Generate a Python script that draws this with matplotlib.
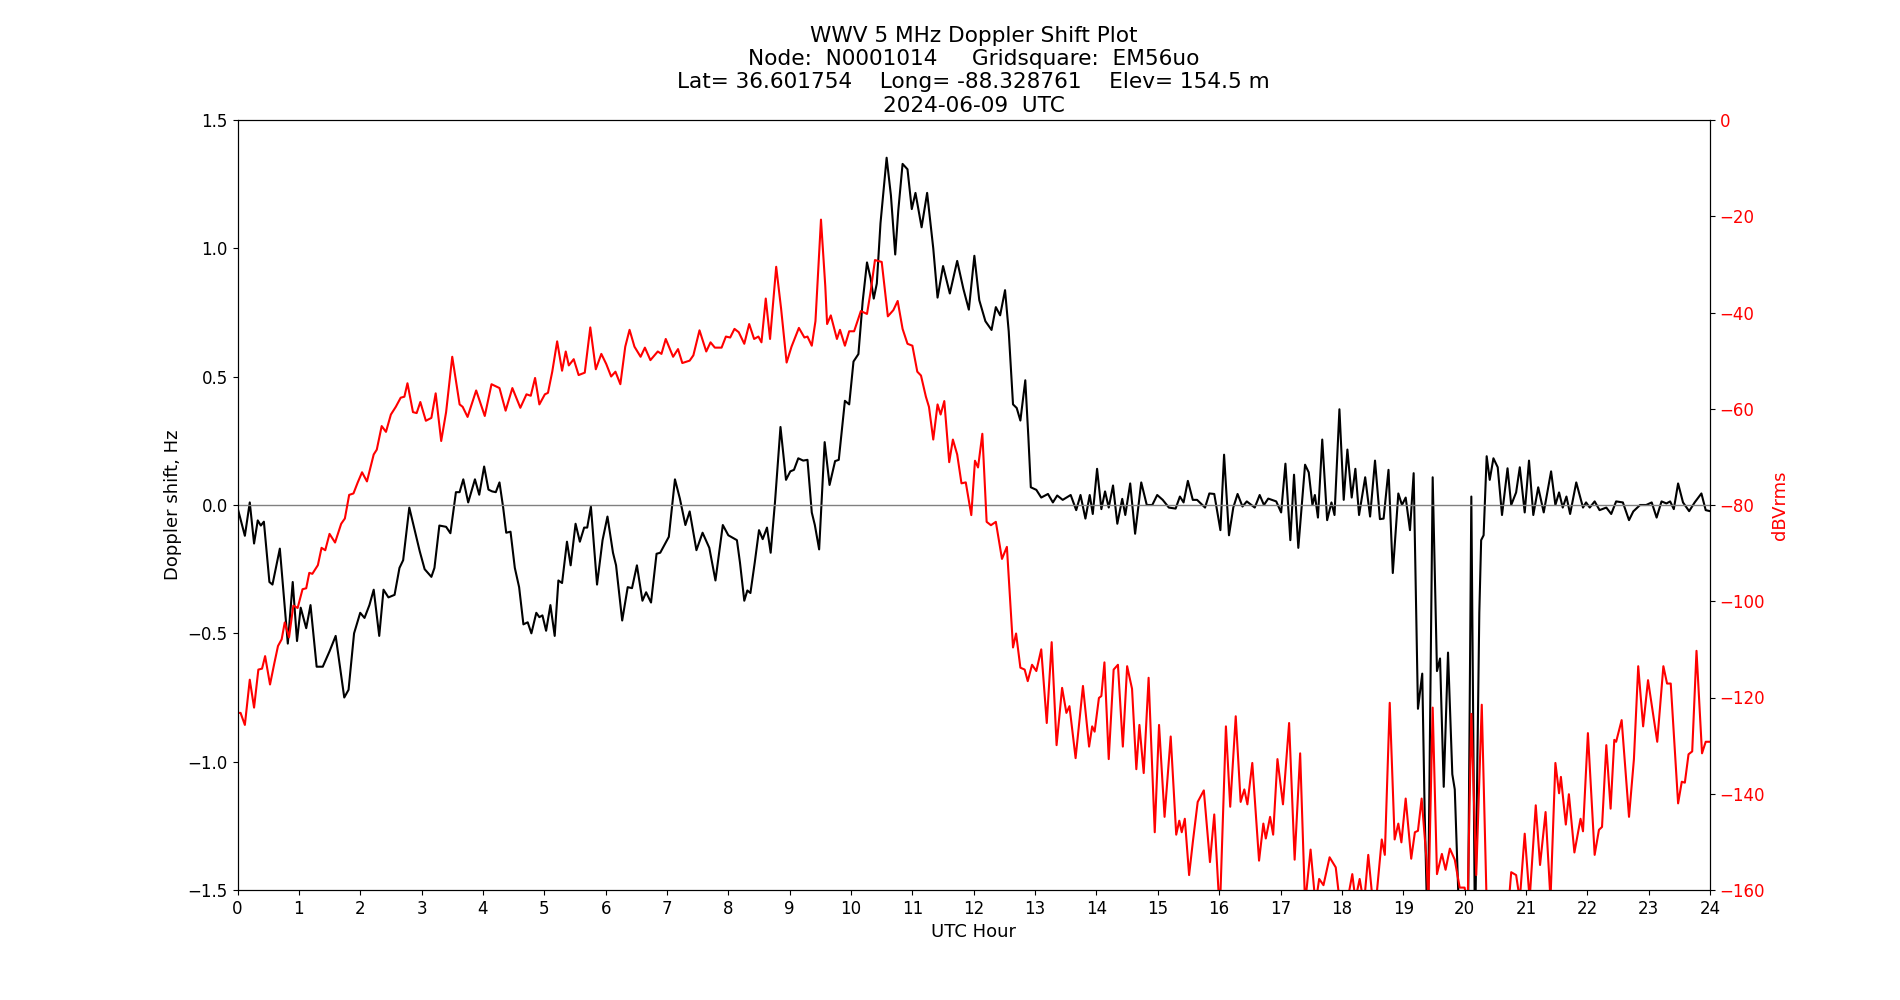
import numpy as np
import matplotlib as mpl
import matplotlib.pyplot as plt

mpl.rcParams['font.size'] = 13
mpl.rcParams['xtick.labelsize'] = 12
mpl.rcParams['ytick.labelsize'] = 12

# Doppler shift (black), hours UTC / Hz
dop_hour = [0.00, 0.12, 0.20, 0.27, 0.33, 0.38, 0.43, 0.52, 0.57, 0.69, 0.82, 0.90, 0.97,
            1.03, 1.12, 1.19, 1.29, 1.39, 1.50, 1.60, 1.74, 1.81, 1.90, 2.00, 2.07, 2.15,
            2.22, 2.31, 2.38, 2.46, 2.56, 2.64, 2.70, 2.80, 2.88, 2.97, 3.05, 3.16, 3.21,
            3.29, 3.40, 3.47, 3.56, 3.62, 3.68, 3.76, 3.87, 3.94, 4.02, 4.09, 4.15, 4.21,
            4.27, 4.33, 4.38, 4.45, 4.52, 4.59, 4.66, 4.73, 4.79, 4.87, 4.92, 4.97, 5.03,
            5.10, 5.17, 5.23, 5.29, 5.37, 5.43, 5.51, 5.58, 5.65, 5.70, 5.76, 5.86, 5.95,
            6.03, 6.12, 6.17, 6.27, 6.36, 6.43, 6.51, 6.60, 6.66, 6.74, 6.83, 6.89, 7.03,
            7.13, 7.21, 7.30, 7.37, 7.48, 7.58, 7.69, 7.79, 7.91, 8.00, 8.14, 8.19, 8.26,
            8.31, 8.36, 8.43, 8.50, 8.56, 8.63, 8.69, 8.76, 8.85, 8.94, 9.01, 9.07, 9.14,
            9.22, 9.29, 9.36, 9.41, 9.48, 9.57, 9.65, 9.74, 9.80, 9.90, 9.97, 10.04, 10.12,
            10.19, 10.26, 10.32, 10.37, 10.42, 10.48, 10.58, 10.65, 10.72, 10.77, 10.84,
            10.92, 10.99, 11.05, 11.15, 11.24, 11.34, 11.41, 11.50, 11.61, 11.73, 11.83,
            11.92, 12.01, 12.09, 12.19, 12.29, 12.36, 12.43, 12.51, 12.57, 12.64, 12.70,
            12.76, 12.84, 12.89, 12.93, 13.02, 13.10, 13.21, 13.29, 13.36, 13.45, 13.58,
            13.67, 13.74, 13.82, 13.89, 13.94, 14.01, 14.08, 14.14, 14.20, 14.27, 14.34,
            14.42, 14.47, 14.55, 14.63, 14.73, 14.82, 14.91, 14.99, 15.08, 15.18, 15.29,
            15.36, 15.42, 15.49, 15.57, 15.64, 15.77, 15.84, 15.92, 16.02, 16.08, 16.16,
            16.23, 16.30, 16.38, 16.45, 16.58, 16.66, 16.73, 16.80, 16.93, 17.01, 17.08,
            17.16, 17.22, 17.29, 17.40, 17.46, 17.52, 17.56, 17.61, 17.68, 17.76, 17.83,
            17.88, 17.96, 18.03, 18.09, 18.16, 18.22, 18.28, 18.38, 18.46, 18.54, 18.62,
            18.68, 18.76, 18.83, 18.92, 18.98, 19.04, 19.11, 19.17, 19.24, 19.31, 19.35,
            19.40, 19.48, 19.55, 19.60, 19.66, 19.73, 19.80, 19.84, 19.91, 19.98, 20.05,
            20.11, 20.17, 20.24, 20.27, 20.31, 20.36, 20.41, 20.47, 20.54, 20.61, 20.70,
            20.76, 20.84, 20.90, 20.98, 21.05, 21.12, 21.20, 21.29, 21.41, 21.48, 21.54,
            21.60, 21.66, 21.72, 21.82, 21.93, 21.98, 22.04, 22.12, 22.20, 22.31, 22.39,
            22.47, 22.58, 22.68, 22.75, 22.86, 22.96, 23.05, 23.13, 23.21, 23.29, 23.35,
            23.41, 23.48, 23.56, 23.66, 23.75, 23.86, 23.93, 24.00]
dop_hz = [-0.01, -0.12, 0.01, -0.15, -0.06, -0.08, -0.065, -0.30, -0.31, -0.17, -0.54, -0.30, -0.53,
          -0.40, -0.48, -0.39, -0.63, -0.63, -0.57, -0.51, -0.75, -0.72, -0.50, -0.42, -0.44, -0.39,
          -0.33, -0.51, -0.33, -0.36, -0.35, -0.245, -0.215, -0.01, -0.09, -0.18, -0.25, -0.28, -0.245,
          -0.08, -0.085, -0.11, 0.05, 0.05, 0.10, 0.01, 0.10, 0.04, 0.15, 0.06, 0.053, 0.05,
          0.088, -0.01, -0.108, -0.104, -0.245, -0.32, -0.465, -0.457, -0.50, -0.42, -0.437, -0.43, -0.49,
          -0.39, -0.51, -0.294, -0.304, -0.143, -0.235, -0.073, -0.143, -0.088, -0.088, -0.006, -0.31, -0.137,
          -0.045, -0.186, -0.235, -0.45, -0.32, -0.324, -0.235, -0.373, -0.34, -0.38, -0.19, -0.186, -0.124,
          0.10, 0.025, -0.078, -0.025, -0.176, -0.108, -0.167, -0.294, -0.078, -0.118, -0.137, -0.225, -0.373,
          -0.333, -0.343, -0.225, -0.098, -0.133, -0.088, -0.186, 0.01, 0.304, 0.098, 0.131, 0.137, 0.182,
          0.173, 0.176, -0.029, -0.078, -0.173, 0.245, 0.078, 0.171, 0.176, 0.406, 0.392, 0.559, 0.588,
          0.794, 0.945, 0.882, 0.804, 0.863, 1.098, 1.353, 1.206, 0.976, 1.147, 1.329,
          1.308, 1.153, 1.216, 1.082, 1.216, 1.0, 0.808, 0.931, 0.824, 0.951, 0.843,
          0.761, 0.971, 0.798, 0.716, 0.682, 0.771, 0.739, 0.837, 0.676, 0.392, 0.378,
          0.329, 0.486, 0.265, 0.069, 0.059, 0.029, 0.043, 0.01, 0.037, 0.02, 0.039,
          -0.02, 0.039, -0.053, 0.039, -0.035, 0.141, -0.016, 0.053, -0.01, 0.076, -0.073,
          0.024, -0.039, 0.084, -0.112, 0.088, 0.0, 0.0, 0.039, 0.02, -0.01, -0.014,
          0.033, 0.01, 0.094, 0.02, 0.02, -0.01, 0.045, 0.043, -0.098, 0.196, -0.118,
          -0.01, 0.043, -0.006, 0.014, -0.01, 0.039, 0.0, 0.025, 0.014, -0.029, 0.161,
          -0.137, 0.118, -0.167, 0.157, 0.127, 0.0, 0.039, -0.049, 0.255, -0.059, 0.01,
          -0.039, 0.373, 0.02, 0.216, 0.029, 0.141, -0.039, 0.108, -0.045, 0.173, -0.055,
          -0.053, 0.137, -0.265, 0.045, 0.0, 0.029, -0.098, 0.124, -0.794, -0.657, -1.206,
          -1.7, 0.108, -0.647, -0.598, -1.098, -0.575, -1.049, -1.108, -1.6, -1.8, -1.8,
          0.033, -1.7, -0.42, -0.137, -0.118, 0.19, 0.098, 0.182, 0.147, -0.039, 0.143,
          0.0, 0.049, 0.147, -0.029, 0.173, -0.039, 0.069, -0.029, 0.131, 0.0, 0.049,
          -0.01, 0.033, -0.035, 0.088, -0.01, 0.01, -0.01, 0.014, -0.02, -0.01, -0.035,
          0.014, 0.01, -0.059, -0.025, 0.0, 0.0, 0.01, -0.049, 0.014, 0.006, 0.014,
          -0.016, 0.084, 0.01, -0.024, 0.01, 0.045, -0.02, -0.024]

# Received level (red), hours UTC / dBVrms
lvl_hour = [0.00, 0.05, 0.12, 0.20, 0.27, 0.34, 0.40, 0.45, 0.53, 0.60, 0.66, 0.72, 0.77, 0.84,
            0.91, 0.98, 1.06, 1.12, 1.17, 1.22, 1.31, 1.37, 1.43, 1.50, 1.59, 1.69, 1.75, 1.82,
            1.89, 1.96, 2.03, 2.11, 2.22, 2.27, 2.35, 2.42, 2.50, 2.58, 2.66, 2.72, 2.77, 2.86,
            2.92, 2.98, 3.07, 3.16, 3.23, 3.32, 3.40, 3.50, 3.62, 3.67, 3.75, 3.89, 4.03, 4.14,
            4.27, 4.37, 4.48, 4.61, 4.71, 4.78, 4.85, 4.92, 5.01, 5.06, 5.13, 5.21, 5.29, 5.35,
            5.40, 5.48, 5.56, 5.66, 5.75, 5.84, 5.93, 6.01, 6.09, 6.16, 6.24, 6.32, 6.39, 6.47,
            6.57, 6.64, 6.73, 6.85, 6.91, 6.98, 7.10, 7.18, 7.25, 7.37, 7.43, 7.53, 7.64, 7.71,
            7.78, 7.89, 7.96, 8.03, 8.10, 8.17, 8.26, 8.34, 8.42, 8.49, 8.54, 8.61, 8.68, 8.78,
            8.86, 8.95, 9.03, 9.15, 9.24, 9.29, 9.36, 9.42, 9.51, 9.58, 9.61, 9.67, 9.77, 9.82,
            9.90, 9.97, 10.05, 10.16, 10.26, 10.32, 10.39, 10.50, 10.60, 10.69, 10.76, 10.84,
            10.92, 11.00, 11.08, 11.14, 11.22, 11.27, 11.34, 11.41, 11.46, 11.52, 11.60, 11.66,
            11.73, 11.80, 11.87, 11.96, 12.02, 12.07, 12.14, 12.21, 12.28, 12.36, 12.46, 12.54,
            12.64, 12.69, 12.76, 12.83, 12.88, 12.95, 13.02, 13.10, 13.19, 13.27, 13.35, 13.44,
            13.51, 13.56, 13.66, 13.78, 13.88, 13.93, 13.97, 14.04, 14.08, 14.13, 14.20, 14.28,
            14.35, 14.43, 14.50, 14.58, 14.65, 14.70, 14.77, 14.85, 14.95, 15.02, 15.11, 15.21,
            15.30, 15.35, 15.39, 15.44, 15.51, 15.57, 15.65, 15.75, 15.85, 15.92, 16.01, 16.11,
            16.18, 16.27, 16.35, 16.41, 16.46, 16.54, 16.65, 16.72, 16.76, 16.83, 16.88, 16.95,
            17.04, 17.14, 17.23, 17.32, 17.40, 17.49, 17.57, 17.63, 17.70, 17.80, 17.90, 17.97,
            18.05, 18.17, 18.22, 18.29, 18.36, 18.43, 18.50, 18.57, 18.65, 18.70, 18.78, 18.86,
            18.92, 18.97, 19.04, 19.13, 19.19, 19.24, 19.30, 19.38, 19.41, 19.48, 19.55, 19.63,
            19.69, 19.76, 19.84, 19.92, 20.00, 20.05, 20.11, 20.19, 20.28, 20.36, 20.45, 20.60,
            20.73, 20.76, 20.84, 20.90, 20.98, 21.06, 21.16, 21.23, 21.32, 21.40, 21.48, 21.54,
            21.57, 21.65, 21.70, 21.79, 21.89, 21.93, 22.01, 22.12, 22.19, 22.24, 22.31, 22.38,
            22.44, 22.47, 22.56, 22.68, 22.76, 22.83, 22.91, 22.99, 23.06, 23.14, 23.24, 23.30,
            23.36, 23.48, 23.54, 23.59, 23.65, 23.71, 23.78, 23.87, 23.93, 24.00]
lvl_db = [-123.2, -123.2, -125.7, -116.3, -122.1, -114.2, -114.0, -111.4, -117.3, -112.9, -109.3, -107.9, -104.4, -107.5,
          -100.9, -101.4, -97.5, -97.3, -94.1, -94.3, -92.5, -88.9, -89.4, -86.0, -87.8, -83.9, -82.8, -77.9,
          -77.6, -75.3, -73.2, -75.1, -69.5, -68.5, -63.6, -64.8, -61.2, -59.6, -57.7, -57.5, -54.7, -60.7,
          -60.9, -58.6, -62.5, -61.9, -56.8, -66.7, -60.7, -49.2, -59.1, -59.6, -61.7, -56.2, -61.5, -54.9,
          -55.7, -60.4, -55.7, -59.8, -57.0, -57.3, -53.6, -59.1, -57.0, -56.7, -52.3, -46.0, -52.1, -48.1,
          -51.0, -49.7, -53.0, -52.5, -43.1, -51.8, -48.6, -50.7, -53.3, -52.3, -54.9, -47.1, -43.6, -47.1,
          -49.2, -47.3, -49.9, -48.1, -48.6, -45.5, -49.2, -47.6, -50.5, -50.0, -48.9, -43.7, -48.1, -46.2,
          -47.3, -47.3, -45.0, -45.2, -43.4, -44.1, -46.5, -42.4, -45.5, -45.0, -46.2, -37.1, -45.5, -30.5,
          -39.2, -50.4, -47.1, -43.2, -45.2, -45.0, -46.9, -41.8, -20.7, -34.5, -42.4, -40.6, -45.5, -43.6,
          -46.9, -43.9, -43.9, -39.7, -40.3, -35.6, -29.1, -29.5, -40.8, -39.5, -37.6, -43.4,
          -46.5, -46.9, -52.3, -53.1, -57.5, -59.6, -66.4, -59.1, -61.2, -58.4, -71.1, -66.4,
          -69.5, -75.5, -75.3, -82.1, -70.8, -72.2, -65.2, -83.5, -84.2, -83.5, -91.2, -88.7,
          -109.6, -106.7, -113.8, -114.2, -116.6, -113.2, -114.5, -110.0, -125.3, -108.5, -129.9, -118.0,
          -123.2, -121.8, -132.6, -117.6, -130.2, -126.0, -127.1, -120.1, -119.7, -112.7, -132.8, -114.2,
          -113.2, -130.2, -113.5, -118.2, -134.9, -125.7, -135.7, -115.9, -148.0, -125.7, -144.8, -128.1,
          -148.5, -145.6, -148.0, -145.2, -156.9, -150.1, -141.7, -139.3, -154.2, -144.3, -165.0, -126.0,
          -142.7, -123.9, -141.7, -139.1, -142.2, -133.6, -153.9, -146.2, -149.3, -144.8, -148.5, -132.8,
          -142.2, -125.3, -153.7, -131.6, -163.0, -151.6, -163.0, -157.7, -159.0, -153.2, -155.3, -163.0,
          -165.0, -156.7, -162.0, -157.7, -163.0, -152.7, -162.0, -160.5, -149.5, -152.7, -121.1, -149.5,
          -146.2, -150.1, -141.0, -153.5, -148.0, -147.7, -141.0, -153.7, -163.0, -122.1, -156.7, -152.5,
          -155.8, -151.4, -153.7, -159.5, -159.5, -163.0, -123.4, -156.9, -121.5, -163.0, -170.0, -170.0,
          -161.0, -156.3, -156.9, -162.0, -148.3, -162.0, -142.4, -154.8, -143.8, -162.0, -133.6, -139.9,
          -136.5, -146.4, -140.1, -152.2, -145.2, -147.8, -127.4, -152.7, -147.5, -146.9, -129.9, -143.1,
          -128.8, -129.2, -124.7, -144.8, -132.8, -113.5, -126.0, -116.4, -122.4, -129.2, -113.5, -117.1,
          -117.1, -142.0, -137.5, -137.7, -131.8, -131.2, -110.3, -131.6, -129.2, -129.2]

title = ('WWV 5 MHz Doppler Shift Plot\n'
         'Node:  N0001014     Gridsquare:  EM56uo\n'
         'Lat= 36.601754    Long= -88.328761    Elev= 154.5 m\n'
         '2024-06-09  UTC')

fig, ax = plt.subplots(figsize=(19, 10), dpi=100)
ax.plot(dop_hour, dop_hz, color='k', lw=1.5)
ax.axhline(0, color='gray', lw=1)
ax.set_xlim(0, 24)
ax.set_ylim(-1.5, 1.5)
ax.set_xticks(np.arange(0, 25, 1))
ax.set_yticks(np.arange(-1.5, 1.51, 0.5))
ax.set_xlabel('UTC Hour')
ax.set_ylabel('Doppler shift, Hz')
ax.set_title(title)

ax2 = ax.twinx()
ax2.plot(lvl_hour, lvl_db, color='r', lw=1.5)
ax2.set_ylim(-160, 0)
ax2.set_yticks(np.arange(-160, 1, 20))
ax2.set_ylabel('dBVrms', color='r')
ax2.tick_params(axis='y', labelcolor='r')

fig.savefig('out.png', dpi=100)
